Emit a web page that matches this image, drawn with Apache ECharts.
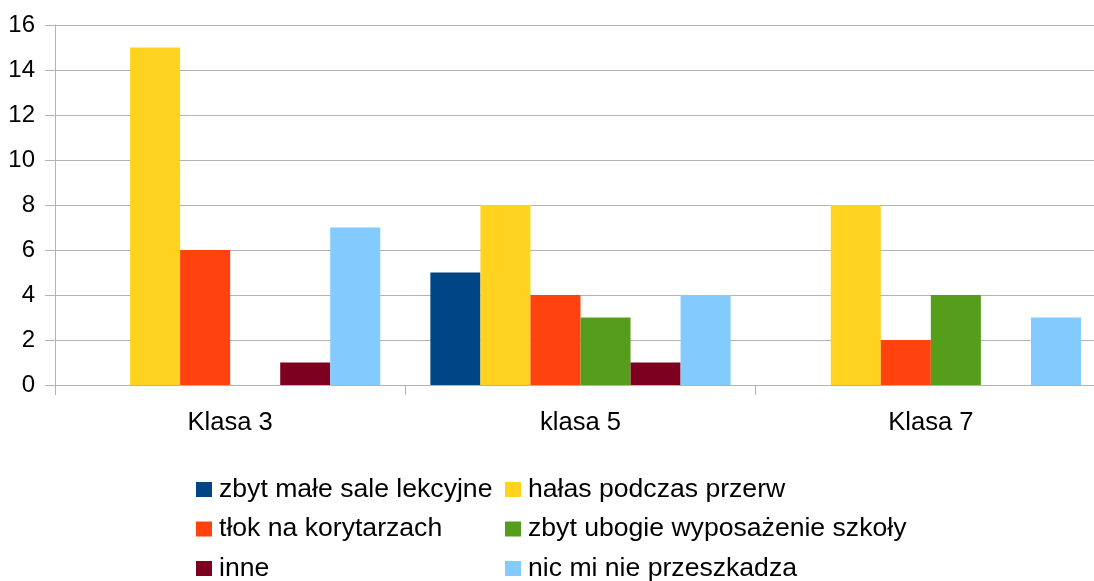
<!DOCTYPE html>
<html>
<head>
<meta charset="utf-8">
<script src="https://cdn.jsdelivr.net/npm/echarts@6/dist/echarts.min.js"></script>
<style>
  html, body { margin: 0; padding: 0; background: #fff; }
  #chart { width: 1094px; height: 581px; }
</style>
</head>
<body>
<div id="chart"></div>
<script>
// dane wykresu
const categories = ['Klasa 3', 'klasa 5', 'Klasa 7'];
const seriesNames = [
  'zbyt małe sale lekcyjne',
  'hałas podczas przerw',
  'tłok na korytarzach',
  'zbyt ubogie wyposażenie szkoły',
  'inne',
  'nic mi nie przeszkadza'
];
const smallRooms = [0, 5, 0];
const breakNoise = [15, 8, 8];
const crowdedHalls = [6, 4, 2];
const poorEquipment = [0, 3, 4];
const other = [1, 1, 0];
const nothing = [7, 4, 3];
const yTicks = [0, 2, 4, 6, 8, 10, 12, 14, 16];

const colors = ['#004586', '#ffd320', '#ff420e', '#579d1c', '#7e0021', '#83caff'];
const values = [smallRooms, breakNoise, crowdedHalls, poorEquipment, other, nothing];
const font = '"Liberation Sans", Arial, sans-serif';

const chart = echarts.init(document.getElementById('chart'));

const legendBase = {
  orient: 'vertical',
  top: 476,
  height: 200,
  padding: 0,
  icon: 'rect',
  itemWidth: 16,
  itemHeight: 15,
  itemGap: 12.5,
  selectedMode: false,
  textStyle: { fontFamily: font, fontSize: 26.6, lineHeight: 26, color: '#000', padding: [0, 0, 0, 2] }
};

chart.setOption({
  animation: false,
  color: colors,
  grid: { left: 55, top: 25, width: 1051, height: 360, containLabel: false, outerBoundsMode: 'none' },
  legend: [
    Object.assign({}, legendBase, { left: 196, data: [seriesNames[0], seriesNames[2], seriesNames[4]] }),
    Object.assign({}, legendBase, { left: 505, data: [seriesNames[1], seriesNames[3], seriesNames[5]] })
  ],
  xAxis: {
    type: 'category',
    data: categories,
    axisLine: { lineStyle: { color: '#b3b3b3', width: 1 } },
    axisTick: { show: true, length: 10, lineStyle: { color: '#b3b3b3' } },
    axisLabel: { fontFamily: font, fontSize: 25.6, color: '#000', margin: 25 }
  },
  yAxis: {
    type: 'value',
    min: yTicks[0],
    max: yTicks[yTicks.length - 1],
    interval: 2,
    axisLine: { show: true, lineStyle: { color: '#b3b3b3', width: 1 } },
    axisTick: { show: true, length: 10, lineStyle: { color: '#b3b3b3' } },
    splitLine: { lineStyle: { color: '#b3b3b3', width: 1 } },
    axisLabel: { fontFamily: font, fontSize: 24, color: '#000', margin: 20 }
  },
  series: seriesNames.map((name, i) => ({
    name: name,
    type: 'bar',
    data: values[i],
    barGap: '0%',
    barCategoryGap: '14.3%',
    itemStyle: { color: colors[i] }
  }))
});
</script>
</body>
</html>
